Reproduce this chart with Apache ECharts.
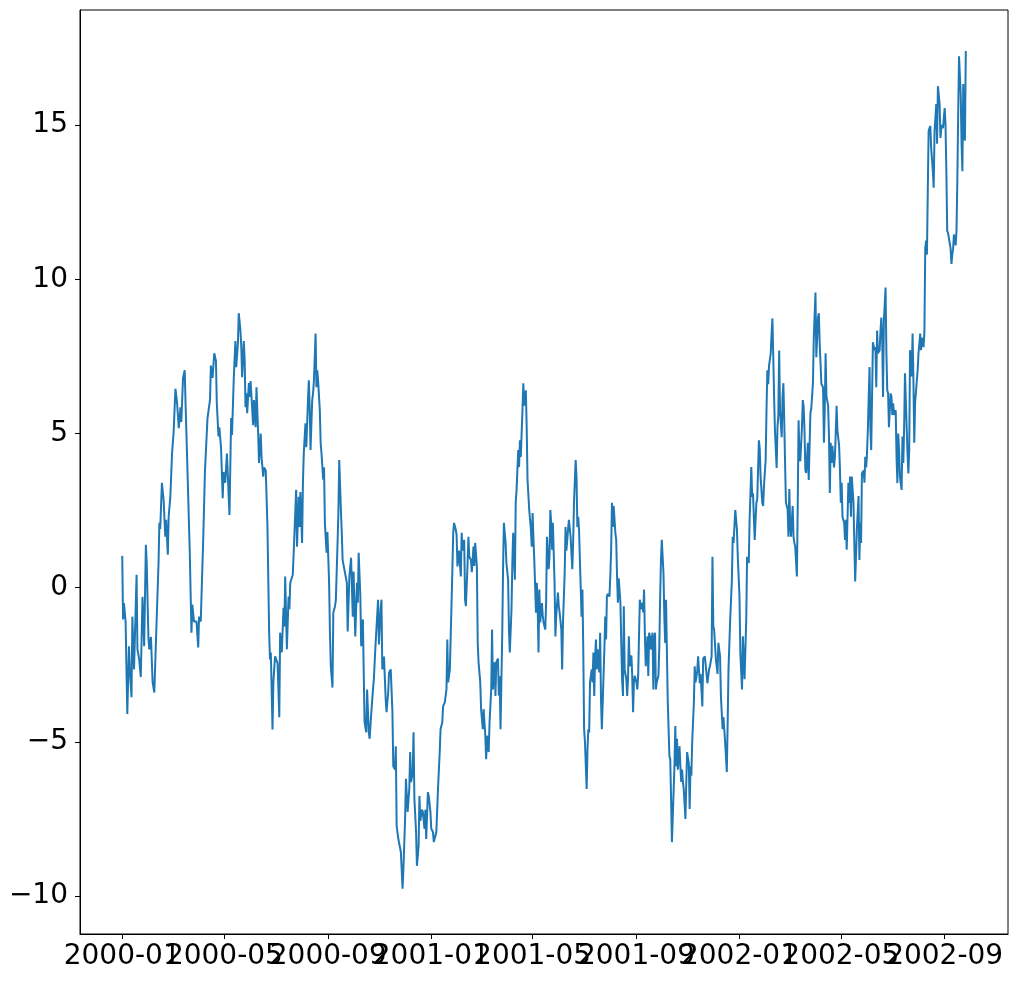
<!DOCTYPE html>
<html lang="en">
<head>
    <meta charset="UTF-8">
    <script src="https://cdn.jsdelivr.net/npm/echarts@6/dist/echarts.min.js"></script>
    <title>random walk</title>
    <style>
        html, body { margin: 0; padding: 0; background: #fff; }
        #chart { width: 1018px; height: 981px; }
    </style>
</head>
<body>
    <div id="chart"></div>
    <script>
        // days since 2000-01-01
        let days = [
            0, 1, 2, 4, 6, 8, 9, 11, 12, 14, 17, 18, 20, 22, 24, 26, 28, 29, 31, 32,
            34, 36, 38, 40, 43, 44, 45, 47, 49, 51, 52, 54, 55, 57, 59, 61, 63, 65, 67, 69,
            70, 72, 74, 75, 78, 80, 82, 83, 85, 88, 90, 91, 93, 96, 98, 101, 104, 105, 107, 109,
            111, 112, 114, 115, 117, 119, 120, 122, 124, 125, 127, 129, 130, 132, 134,
            135, 137, 138, 140, 141, 142, 144, 145, 146, 147, 148, 150, 151, 152, 154, 155, 156, 158, 159, 161,
            162, 164, 165, 167, 168, 170, 172, 174, 175, 176, 178, 179, 181, 183, 184, 186, 187, 189, 191, 192,
            193, 195, 197, 198, 199, 200, 202, 204, 206, 207, 209, 210, 211, 213, 214, 215, 217, 218, 220, 221,
            222, 223, 225, 226, 227, 229, 230, 231, 232, 234, 235, 236, 238, 239, 240, 242, 243, 244, 245, 246,
            247, 249, 250, 252, 253, 255, 256, 257, 259, 260, 261, 263,
            264, 266, 267, 269, 271, 272, 273, 274, 276, 278, 279, 280, 282, 283, 285, 286, 287, 289, 290, 292,
            293, 295, 297, 298, 300, 301, 303, 304, 306, 307, 308, 310, 312, 313, 315, 316, 318, 320, 321, 323,
            324, 325, 327, 329, 330, 332, 333, 335, 336, 338, 340, 341, 342, 344, 345, 346, 348, 349, 351, 352,
            353, 355, 356, 358, 359, 360, 362, 363, 365, 366, 368, 369, 371, 372, 374, 376, 377, 379, 380, 382,
            384, 385, 386, 388, 389, 391, 392, 393, 395, 396, 397, 399, 401,
            402, 403, 405, 406, 407, 409, 410, 411, 413, 414, 416, 417, 418, 420, 421, 422, 424, 425, 427, 428,
            430, 431, 432, 434, 435, 437, 438, 439, 441, 442, 443, 445, 446, 447, 448, 450, 451, 452, 454, 455,
            457, 458, 459, 461, 462, 463, 465, 466, 467, 469, 470, 471, 472, 474, 475, 476, 478, 479, 480, 482,
            484, 485, 486, 487, 488, 490, 491, 492, 493, 494, 495, 497, 498, 499, 501, 502, 503, 505, 506, 507,
            508, 509, 510, 512, 513, 514, 516, 517, 518, 520, 521, 522, 524, 525, 526, 528, 529, 531, 533, 534,
            535, 537,
            538, 539, 540, 541, 542, 544, 545, 546, 547, 548, 550, 551, 552, 553, 554, 556, 557, 558, 559, 560,
            561, 562, 563, 565, 566, 567, 568, 569, 571, 572, 573, 574, 575, 577, 578, 579, 580, 581, 582, 584,
            585, 586, 587, 588, 590, 591, 592, 593, 594, 595, 597, 598, 599, 600, 601, 603, 604, 605, 606, 607,
            609, 610, 611, 612, 613, 614, 616, 617, 618, 619, 620, 622, 623, 624, 625, 626, 628, 629, 630, 631,
            632, 633, 635, 636, 637, 638, 639, 641, 642, 643, 644, 645, 646, 648, 649, 650, 651, 652, 654, 655,
            656, 657, 658, 660, 661, 662, 663, 664, 665, 667, 668, 669, 671, 672, 673,
            674, 675, 677, 678, 679, 681, 682, 684, 685, 687, 688, 690, 692, 693, 695, 696, 698, 699, 700, 701,
            703, 705, 706, 708, 709, 711, 712, 714, 716, 717, 718, 720, 722, 723, 724, 726, 728, 729, 731, 732,
            734, 735, 737, 739, 740, 742, 743, 745, 746, 747, 748, 749, 751, 752, 753, 754, 755, 756, 758, 759,
            760, 762, 763, 764, 765, 766, 768, 769, 770, 771, 772, 773, 775, 776, 777, 778, 779, 781, 782, 783,
            784, 785, 786, 788, 789, 790, 791, 792, 794, 795, 796, 797, 799, 800, 801, 802, 803, 805, 806, 807,
            808, 809,
            810, 812, 813, 815, 816, 818, 819, 821, 822, 824, 825, 826, 827, 828, 830, 831, 832, 833, 834, 836,
            837, 838, 839, 840, 841, 843, 844, 845, 846, 847, 849, 850, 851, 852, 853, 855, 856, 857, 858, 860,
            861, 862, 863, 864, 866, 867, 868, 869, 870, 872, 873, 874, 875, 876, 878, 879, 880, 881, 882, 883,
            885, 886, 887, 888, 889, 891, 892, 893, 894, 895, 897, 898, 899, 900, 901, 902, 904, 905, 906, 907,
            908, 910, 911, 912, 913, 914, 916, 917, 918, 919, 920, 921, 923, 924, 925, 926, 927, 929, 930, 931,
            932, 933, 935, 936, 937, 938, 939, 941, 942, 943, 944, 945, 946,
            947, 948, 949, 950, 951, 952, 953, 954, 955, 956, 957, 958, 960, 961, 962, 963, 964, 965, 966, 968,
            969, 970, 971, 972, 974, 975, 976, 977, 978, 980, 981, 982, 983, 984, 985, 987, 988, 989, 990, 991,
            993, 994, 995, 996, 997, 998, 999
        ];

        let values = [
            1.03, -1.03, -0.5, -1.1, -4.1, -1.9, -2.65, -3.55, -0.94, -2.65, 0.42, -2.0, -2.3, -2.9, -0.3, -1.9, 1.39, 0.8, -1.6, -2.0,
            -1.6, -3.07, -3.4, -1.7, 0.8, 2.1, 1.9, 3.4, 2.85, 1.65, 2.2, 1.07, 2.3, 2.95, 4.35, 5.1, 6.45, 5.98, 5.17, 5.85,
            5.37, 6.79, 7.05, 5.98, 3.1, 1.13, -1.46, -0.55, -1.1, -1.1, -1.94, -0.94, -1.1, 1.65, 3.8, 5.5, 6.1, 7.2, 6.8, 7.6,
            7.35, 5.98, 4.9, 5.2, 4.55, 2.9, 3.75, 3.4, 4.35, 4.4, 2.36, 5.5, 4.95, 6.7, 8.0,
            7.15, 7.92, 8.9, 8.34, 7.8, 6.82, 8.0, 7.37, 5.85, 6.3, 5.66, 6.63, 6.18, 6.7, 5.75, 5.27, 6.08, 5.2, 6.5, 5.0,
            4.04, 5.0, 4.24, 3.6, 3.9, 3.8, 1.97, -1.46, -2.33, -2.1, -4.6, -3.07, -2.23, -2.2, -2.45, -4.2, -1.46, -2.1, -0.65, -1.26,
            0.36, -2.0, -0.29, -0.7, 0.16, 0.16, 0.42, 1.78, 3.17, 1.33, 2.95, 1.97, 3.1, 1.45, 3.4, 4.35, 5.33, 4.55, 6.08, 6.72,
            5.85, 4.46, 6.08, 6.3, 6.7, 8.24, 6.5, 7.05, 6.7, 5.75, 4.69, 4.35, 3.5, 3.9, 2.1, 1.13, 1.8, 1.0, 0.16, -1.46,
            -2.55, -3.24, -0.81, -0.6, -0.4, 1.45, 2.42, 4.14, 2.5, 1.78, 0.9, 0.6,
            0.6, 0.16, -1.42, 0.36, 0.97, 0.03, -0.94, 0.52, -1.58, 0.16, -0.49, 1.13, -0.29, -1.9, -1.03, -2.75, -4.37, -4.69, -3.3, -4.69,
            -4.9, -4.04, -3.3, -2.97, -1.84, -1.9, -0.39, -1.84, -0.71, -0.39, -2.65, -2.23, -3.62, -4.04, -3.4, -2.75, -2.65, -4.04, -5.79, -5.9,
            -5.14, -7.73, -8.15, -8.15, -8.57, -9.76, -9.12, -7.5, -6.2, -7.27, -6.5, -5.33, -6.3, -6.0, -4.69, -6.85, -7.92, -9.02, -8.37, -6.76,
            -7.56, -7.2, -7.27, -7.82, -7.2, -8.15, -6.63, -6.76, -7.27, -7.82, -7.92, -8.25, -8.25, -7.92, -6.5, -5.33, -4.59, -4.37, -3.85, -3.72,
            -3.3, -1.68, -3.07, -2.65, -1.58, 0.58, 1.78, 2.1, 1.88, 1.7, 0.69, 1.2, 0.36,
            1.78, 1.2, 1.55, -0.39, -0.6, 0.8, 1.65, 1.0, 0.9, 0.5, 1.33, 0.7, 1.45, 0.7, -1.79, -2.42, -3.07, -3.94, -4.59, -3.94,
            -4.8, -5.56, -4.8, -5.33, -4.37, -3.3, -1.36, -3.3, -2.42, -3.51, -2.42, -2.3, -3.5, -2.87, -4.59, -1.58, 0.58, 2.1, 1.45, 0.8,
            0.26, -1.36, -2.1, -0.71, 0.8, 1.78, 0.26, 2.75, 3.17, 4.46, 3.91, 4.78, 4.24, 5.75, 6.63, 5.9, 6.4, 5.2, 3.49, 2.52,
            1.88, 1.33, 2.42, 1.6, 0.9, -0.81, 0.16, -0.6, -2.1, -0.06, -1.13, -0.5, -0.9, -1.13, -1.36, -0.5, 1.65, 0.6, 1.0, 2.52,
            2.1, 1.23, 2.1, 0.16, -1.58, -0.9, -0.16, -0.6, -0.8, -1.36, -2.65, -1.13, 0.48, 1.97, 1.2, 1.88, 2.2, 1.65, 0.6, 1.45,
            2.75, 4.14,
            3.6, 1.97, 2.3, 1.87, 0.9, -0.94, -0.06, -2.0, -4.59, -5.0, -6.53, -5.24, -4.59, -4.7, -3.07, -2.65, -3.07, -2.1, -3.51, -2.3,
            -1.68, -2.65, -2.0, -2.75, -1.46, -3.62, -4.59, -3.74, -2.0, -0.94, -1.68, -0.29, -0.2, -0.29, 0.36, 1.23, 2.75, 1.97, 2.65, 1.78,
            1.55, 0.36, -0.49, 0.3, -0.49, -1.79, -2.97, -3.51, -0.6, -2.65, -2.97, -3.51, -2.97, -1.58, -2.55, -2.2, -2.86, -4.04, -3.07, -2.86,
            -3.07, -3.3, -2.86, -1.58, -0.39, -0.7, -0.49, -0.8, -0.06, -1.58, -2.55, -1.58, -2.86, -1.46, -1.58, -2.0, -1.46, -3.3, -1.68, -1.46,
            -3.3, -3.07, -2.86, -2.0, -0.39, 0.9, 1.55, 0.46, -0.94, -1.79, -0.39, -2.0, -3.62, -5.46, -5.56, -6.85, -8.25, -7.4, -5.79, -4.49,
            -5.79, -4.9, -5.9, -5.14, -5.79, -6.3, -5.9, -6.3, -6.53, -7.5, -6.3, -5.33, -5.7, -7.18, -5.79,
            -6.1, -5.0, -3.72, -2.55, -3.07, -2.7, -2.23, -3.1, -2.8, -3.85, -2.3, -2.23, -2.8, -3.1, -2.65, -2.55, -2.23, 1.0, -1.26, -1.36,
            -2.3, -2.8, -1.79, -2.23, -3.51, -4.59, -4.2, -5.0, -5.98, -4.37, -2.65, -1.03, 0.26, 1.65, 1.45, 2.52, 1.88, 1.0, -0.29, -2.1,
            -3.3, -1.58, -2.97, -1.03, 1.0, 0.8, 2.2, 3.91, 2.95, 3.06, 2.3, 1.55, 2.75, 2.86, 3.81, 4.78, 4.5, 3.6, 2.75, 2.65,
            3.3, 4.14, 5.75, 7.05, 6.6, 7.2, 7.6, 8.24, 8.73, 7.5, 6.18, 5.1, 3.88, 5.2, 5.6, 7.69, 5.75, 4.88, 6.18, 6.63,
            5.4, 4.04, 2.75, 2.55, 1.65, 3.2, 2.1, 1.65, 2.65, 1.65, 1.45, 1.33, 0.36, 2.75, 5.43, 4.24, 4.1, 5.2, 6.08, 5.85,
            5.1, 3.81,
            3.72, 4.7, 3.49, 5.66, 5.8, 6.63, 8.1, 9.57, 7.47, 8.76, 8.9, 7.9, 7.27, 6.6, 6.5, 4.7, 5.8, 7.6, 6.2, 5.9,
            4.88, 3.07, 4.7, 4.04, 4.6, 3.9, 4.24, 5.0, 5.9, 5.1, 4.6, 3.81, 2.75, 3.4, 2.3, 2.1, 1.55, 2.2, 1.23, 3.4,
            2.75, 3.6, 2.3, 3.6, 2.75, 1.45, 0.2, 1.0, 1.88, 2.97, 0.9, 2.1, 1.45, 3.7, 3.8, 3.4, 4.24, 3.9, 4.35, 5.1,
            7.15, 5.2, 4.46, 6.18, 7.96, 7.7, 7.8, 6.5, 8.34, 7.6, 7.7, 8.34, 8.76, 8.1, 6.18, 8.65, 9.73, 7.6, 6.4, 6.3,
            5.2, 6.3, 6.18, 5.6, 5.98, 5.6, 5.75, 4.24, 3.39, 5.0, 4.46, 3.6, 3.17, 4.9, 4.04, 5.2, 6.95, 5.2, 4.35, 3.7,
            4.46, 7.7, 6.85, 8.24, 6.7, 4.7, 6.0, 6.7, 7.05, 7.6, 7.9, 8.24, 7.7,
            8.1, 8.0, 7.8, 8.3, 11.0, 11.25, 10.8, 12.87, 14.8, 14.9, 14.97, 14.26, 13.5, 12.97, 14.8, 15.23, 15.68, 14.39, 16.26, 15.68,
            14.58, 14.9, 15.0, 14.9, 15.55, 15.0, 13.5, 11.57, 11.5, 11.45, 11.0, 10.5, 10.8, 11.0, 11.45, 11.1, 11.57, 13.19, 15.36, 17.23,
            16.0, 14.39, 13.5, 16.33, 14.6, 14.5, 17.4
        ];

        let tickDays = [0, 121, 244, 366, 486, 609, 731, 851, 974];
        let tickLabels = ['2000-01', '2000-05', '2000-09', '2001-01', '2001-05', '2001-09', '2002-01', '2002-05', '2002-09'];
        let yTicks = [-10, -5, 0, 5, 10, 15];

        let data = [];
        let n = Math.min(days.length, values.length);
        for (let i = 0; i < n; i++) {
            data.push([days[i], values[i]]);
        }

        // neighbouring labels overlap like in the original, so they are split
        // over two bottom axes to stop echarts from hiding half of them
        let evenDays = tickDays.filter(function (d, i) { return i % 2 == 0; });
        let oddDays = tickDays.filter(function (d, i) { return i % 2 == 1; });

        function dayLabel(v) {
            let i = tickDays.indexOf(Math.round(v));
            return i >= 0 ? tickLabels[i] : '';
        }

        let labelFont = {
            fontFamily: 'DejaVu Sans',
            fontSize: 28,
            color: '#000'
        };

        function bottomAxis(labelDays, withLine) {
            return {
                type: 'value',
                position: 'bottom',
                gridIndex: 0,
                min: -50,
                max: 1049,
                splitLine: { show: false },
                axisLine: { show: withLine, onZero: false, lineStyle: { color: '#000', width: 1 } },
                axisTick: {
                    show: withLine,
                    inside: false,
                    length: 5,
                    customValues: tickDays,
                    lineStyle: { color: '#000' }
                },
                axisLabel: Object.assign({
                    margin: 9,
                    showMinLabel: true,
                    showMaxLabel: true,
                    hideOverlap: false,
                    customValues: labelDays,
                    formatter: dayLabel
                }, labelFont)
            };
        }

        let option = {
            backgroundColor: '#fff',
            animation: false,
            grid: {
                left: 80,
                right: 10,
                top: 10,
                bottom: 47,
                containLabel: false,
                show: true,
                borderColor: '#000',
                borderWidth: 1
            },
            xAxis: [bottomAxis(evenDays, true), bottomAxis(oddDays, false)],
            yAxis: {
                type: 'value',
                min: -11.23,
                max: 18.73,
                splitLine: { show: false },
                axisLine: { show: true, onZero: false, lineStyle: { color: '#000', width: 1 } },
                axisTick: {
                    show: true,
                    inside: false,
                    length: 5,
                    customValues: yTicks,
                    lineStyle: { color: '#000' }
                },
                axisLabel: Object.assign({
                    margin: 12,
                    showMinLabel: true,
                    showMaxLabel: true,
                    customValues: yTicks,
                    formatter: function (v) {
                        return String(v).replace('-', '\u2212');
                    }
                }, labelFont)
            },
            series: [{
                type: 'line',
                xAxisIndex: 0,
                data: data,
                showSymbol: false,
                symbol: 'none',
                lineStyle: { color: '#1f77b4', width: 2 },
                itemStyle: { color: '#1f77b4' }
            }]
        };

        let myChart = echarts.init(document.getElementById('chart'));
        myChart.setOption(option);
    </script>
</body>
</html>
